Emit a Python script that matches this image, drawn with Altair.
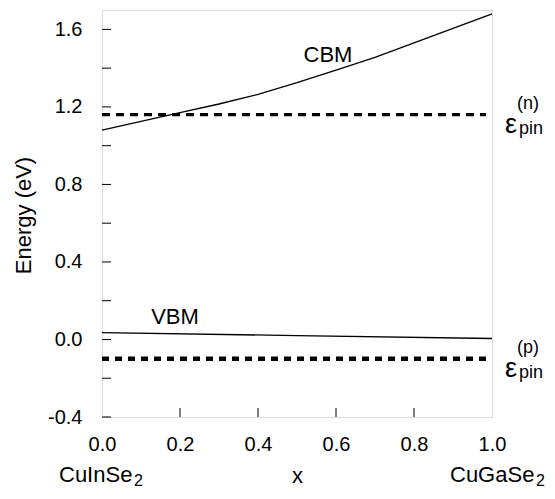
import altair as alt
import pandas as pd

# Data
cbm_x = [0.0, 0.1, 0.2, 0.3, 0.4, 0.5, 0.6, 0.7, 0.8, 0.9, 1.0]
cbm_e = [1.08, 1.125, 1.17, 1.215, 1.265, 1.325, 1.39, 1.455, 1.53, 1.605, 1.68]
vbm_x = [0.0, 0.5, 1.0]
vbm_e = [0.035, 0.02, 0.005]
pin_n = 1.16
pin_p = -0.10
y_ticks = [-0.4, -0.2, 0.0, 0.2, 0.4, 0.6, 0.8, 1.0, 1.2, 1.4, 1.6]
x_ticks = [0.0, 0.2, 0.4, 0.6, 0.8, 1.0]
x_inner_ticks = [0.2, 0.4, 0.6, 0.8]

W, H = 390, 407
FONT = "Liberation Sans"

cbm = pd.DataFrame({"x": cbm_x, "E": cbm_e})
vbm = pd.DataFrame({"x": vbm_x, "E": vbm_e})

xs = alt.Scale(domain=[0, 1], nice=False)
ys = alt.Scale(domain=[-0.4, 1.7], nice=False)

xax = alt.Axis(values=x_ticks, format=".1f", title="x", grid=False, ticks=False,
               domain=False, labelFont=FONT, labelFontSize=20, labelColor="black",
               labelPadding=17, labelFlush=False,
               labelExpr="replace(datum.label, '\u2212', '-')",
               titleFont=FONT, titleFontSize=22, titleFontWeight="normal",
               titleColor="black", titleY=65, titleBaseline="alphabetic")
yax = alt.Axis(values=y_ticks, format=".1f", title="Energy (eV)", grid=False, ticks=False,
               domain=False, labelFont=FONT, labelFontSize=20, labelColor="black",
               labelPadding=20, labelFlush=False,
               labelExpr="abs(round(datum.value*10)) % 4 == 0 ? replace(datum.label, '\u2212', '-') : ''",
               titleFont=FONT, titleFontSize=22, titleFontWeight="normal",
               titleColor="black", titleX=-79, titleY=205, titleBaseline="middle",
               titleAlign="center", titleAngle=270)

cbm_line = alt.Chart(cbm).mark_line(color="black", strokeWidth=1.3).encode(
    x=alt.X("x:Q", scale=xs, axis=xax),
    y=alt.Y("E:Q", scale=ys, axis=yax),
)
vbm_line = alt.Chart(vbm).mark_line(color="black", strokeWidth=1.3).encode(
    x=alt.X("x:Q", scale=xs), y=alt.Y("E:Q", scale=ys))

pins = pd.DataFrame({"x": [0.0], "x2": [0.985], "n": [pin_n], "p": [pin_p]})
pin_n_rule = alt.Chart(pins).mark_rule(color="black", strokeWidth=3.3, strokeDash=[8, 6]).encode(
    x=alt.X("x:Q", scale=xs), x2="x2:Q", y=alt.Y("n:Q", scale=ys))
pin_p_rule = alt.Chart(pins).mark_rule(color="black", strokeWidth=4.5, strokeDash=[7, 6]).encode(
    x=alt.X("x:Q", scale=xs), x2="x2:Q", y=alt.Y("p:Q", scale=ys))

# inward ticks
yt = pd.DataFrame({"v": y_ticks})
ytick_rules = alt.Chart(yt).mark_rule(color="black", strokeWidth=1).encode(
    y=alt.Y("v:Q", scale=ys), x=alt.value(0), x2=alt.value(9))
xt = pd.DataFrame({"v": x_inner_ticks})
xtick_rules = alt.Chart(xt).mark_rule(color="black", strokeWidth=1).encode(
    x=alt.X("v:Q", scale=xs), y=alt.value(H), y2=alt.value(H - 9))

def txt(s, px, py, size=22, align="left", baseline="alphabetic"):
    return alt.Chart(pd.DataFrame({"t": [s]})).mark_text(
        font=FONT, fontSize=size, color="black", align=align, baseline=baseline
    ).encode(text="t:N", x=alt.value(px), y=alt.value(py))

# pixel offsets relative to the plot origin (left=102, top=10)
labels = [
    txt("CBM", 226, 45, align="center", baseline="middle"),
    txt("VBM", 73, 307, align="center", baseline="middle"),
    txt("ε", 403, 123, size=27),
    txt("(n)", 415, 99, size=18),
    txt("pin", 417, 124, size=18),
    txt("ε", 403, 367, size=27),
    txt("(p)", 415, 343, size=18),
    txt("pin", 417, 368, size=18),
    txt("CuInSe", -43, 472),
    txt("2", 32, 476, size=16),
    txt("CuGaSe", 348, 472),
    txt("2", 434, 476, size=16),
]

chart = alt.layer(cbm_line, vbm_line, pin_n_rule, pin_p_rule, ytick_rules, xtick_rules, *labels).properties(
    width=W, height=H,
    autosize=alt.AutoSizeParams(type="none"),
    padding={"left": 94, "top": 2, "right": 55, "bottom": 74},
).configure_view(stroke="black", strokeWidth=1.3).configure(background="white")

chart.save("out.html", embed_options={"renderer": "svg", "actions": False})
